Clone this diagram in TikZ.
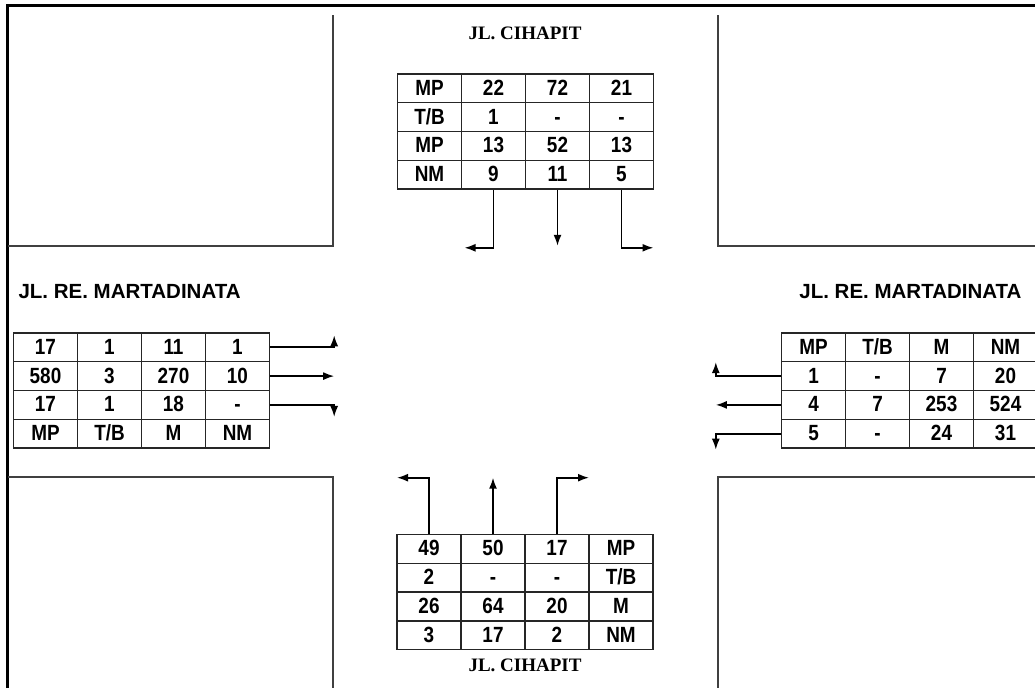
\documentclass[tikz,border=0pt]{standalone}
\usepackage{fontspec}
\setmainfont{Liberation Serif}
\setsansfont{Liberation Sans}
\usetikzlibrary{matrix, arrows.meta}

\begin{document}
\begin{tikzpicture}[x=1pt, y=-1pt,
    cell/.style={draw=black!85, line width=1.4pt, minimum width=64pt, minimum height=28.8pt, text height=15pt, text depth=1pt, inner sep=0pt, anchor=center, font=\sffamily\bfseries\fontsize{22}{24}\selectfont\addfontfeature{FakeStretch=0.86}},
    tbl/.style={matrix of nodes, nodes={cell}, column sep=-1.4pt, row sep=-1.4pt, inner sep=0pt},
    road/.style={draw=black!75, line width=2pt},
    flow/.style={line width=1.7pt, -{Latex[length=11pt,width=8pt]}},
    street/.style={font=\rmfamily\bfseries\fontsize{19}{21}\selectfont},
    jalan/.style={font=\sffamily\bfseries\fontsize{20.5}{22}\selectfont}
]
    \useasboundingbox (0,0) rectangle (1035,688);

    % Frame
    \draw[line width=3pt] (7.5,688) -- (7.5,5.5) -- (1035,5.5);

    % Road edges
    \draw[road] (8,246) -| (333,15);
    \draw[road] (1035,246) -| (718,15);
    \draw[road] (8,477) -| (333,688);
    \draw[road] (1035,477) -| (718,688);

    % Street names
    \node[street] (nameN) at (525,33) {JL. CIHAPIT};
    \node[street] (nameS) at (525,665) {JL. CIHAPIT};
    \node[jalan, anchor=west] (nameW) at (15,292) {JL. RE. MARTADINATA};
    \node[jalan, anchor=east] (nameE) at (1025,292) {JL. RE. MARTADINATA};

    % Counts, north approach
    \matrix (cihN) [tbl] at (525.5,131.5) {
        MP  & 22 & 72 & 21 \\
        T/B & 1  & -  & -  \\
        MP  & 13 & 52 & 13 \\
        NM  & 9  & 11 & 5  \\
    };

    % Counts, south approach
    \matrix (cihS) [tbl] at (525,592) {
        49 & 50 & 17 & MP  \\
        2  & -  & -  & T/B \\
        26 & 64 & 20 & M   \\
        3  & 17 & 2  & NM  \\
    };

    % Counts, west approach
    \matrix (marW) [tbl] at (141.5,390.5) {
        17  & 1   & 11  & 1  \\
        580 & 3   & 270 & 10 \\
        17  & 1   & 18  & -  \\
        MP  & T/B & M   & NM \\
    };

    % Counts, east approach
    \matrix (marE) [tbl] at (909.5,390.5) {
        MP & T/B & M   & NM  \\
        1  & -   & 7   & 20  \\
        4  & 7   & 253 & 524 \\
        5  & -   & 24  & 31  \\
    };

    % Turning movements
    \draw[flow] (cihN-4-2.south) |- ++(-29,58);
    \draw[flow] (cihN-4-3.south) -- ++(0,56);
    \draw[flow] (cihN-4-4.south) |- ++(32,58);

    \draw[flow] (cihS-1-1.north) |- ++(-32,-56);
    \draw[flow] (cihS-1-2.north) -- ++(0,-56);
    \draw[flow] (cihS-1-3.north) |- ++(32,-56);

    \draw[flow] (marW-1-4.east) -| ++(64,-12);
    \draw[flow] (marW-2-4.east) -- ++(64,0);
    \draw[flow] (marW-3-4.east) -| ++(64,12);

    \draw[flow] (marE-2-1.west) -| ++(-65,-14);
    \draw[flow] (marE-3-1.west) -- ++(-65,0);
    \draw[flow] (marE-4-1.west) -| ++(-65,16);

\end{tikzpicture}
\end{document}
